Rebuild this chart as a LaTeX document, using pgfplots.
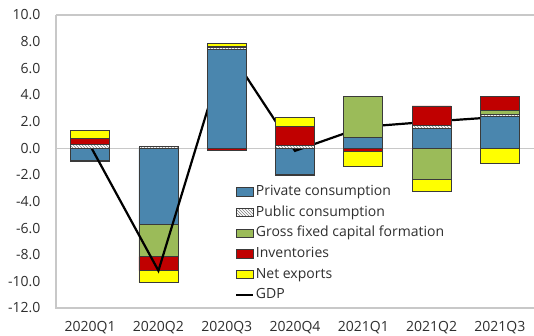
\documentclass[border=0pt]{standalone}
\usepackage{pgfplots}
\pgfplotsset{compat=1.18}
\usepackage{fontspec}
\setmainfont{Open Sans}
\usetikzlibrary{patterns}

\definecolor{pcons}{HTML}{4A86AE}
\definecolor{gfcf}{HTML}{9BBB59}
\definecolor{inv}{HTML}{C00000}
\definecolor{nx}{HTML}{FFFF00}
\definecolor{edge}{HTML}{3A3A3A}
\definecolor{axisgray}{HTML}{C8C8C8}
\definecolor{txt}{HTML}{2E2E2E}

% Contributions to GDP growth, percentage points (positive and negative parts)
\pgfplotstableread{
x  pc    pub   gfcf  inv   nx
0  0     0.30  0     0.40  0.60
1  0     0.15  0     0     0
2  7.40  0.15  0.10  0     0.20
3  0     0.23  0     1.37  0.70
4  0.78  0     3.12  0     0
5  1.46  0.25  0     1.46  0
6  2.36  0.15  0.35  1.03  0
}\positive
\pgfplotstableread{
x  pc     pub  gfcf   inv    nx
0  -0.90  0    -0.10  0      0
1  -5.70  0    -2.45  -1.05  -0.90
2  0      0    0      -0.20  0
3  -2.00  0    -0.05  0      0
4  0      0    0      -0.23  -1.13
5  0      0    -2.36  0      -0.91
6  0      0    0      0      -1.18
}\negative
\pgfplotstableread{
x  gdp
0  0.20
1  -9.20
2  7.60
3  -0.20
4  1.60
5  2.00
6  2.35
}\gdp

\pgfplotsset{
  base/.style={
    scale only axis, width=478pt, height=293pt,
    xmin=-0.5, xmax=6.5, ymin=-12, ymax=10,
    ybar stacked, bar width=39pt,
    clip=false,
  },
  seg/.style={draw=edge, line width=0.8pt},
  boxleg/.style={legend image code/.code={\draw[##1] (0pt,-4pt) rectangle (17pt,4.5pt);}},
  lineleg/.style={legend image code/.code={\draw[##1] (0pt,0pt) -- (17pt,0pt);}},
}

\begin{document}
\begin{tikzpicture}
% negative parts of the stacks
\begin{axis}[base, axis lines=none, xtick=\empty, ytick=\empty]
  \draw[axisgray, line width=1.2pt] (axis cs:-0.5,0) -- (axis cs:6.5,0);
  \addplot[seg, fill=pcons] table[x=x, y=pc] {\negative};
  \addplot[seg, fill=white, postaction={pattern=north west lines, pattern color=gray}] table[x=x, y=pub] {\negative};
  \addplot[seg, fill=gfcf] table[x=x, y=gfcf] {\negative};
  \addplot[seg, fill=inv] table[x=x, y=inv] {\negative};
  \addplot[seg, fill=nx] table[x=x, y=nx] {\negative};
\end{axis}
% positive parts, GDP and the frame
\begin{axis}[base,
  axis line style={draw=none},
  tick style={draw=none},
  xtick=data,
  xticklabels={2020Q1,2020Q2,2020Q3,2020Q4,2021Q1,2021Q2,2021Q3},
  xticklabel style={font=\fontsize{14}{16}\selectfont, text=txt, yshift=-9.5pt},
  ytick={-12,-10,...,10},
  yticklabels={-12.0,-10.0,-8.0,-6.0,-4.0,-2.0,0.0,2.0,4.0,6.0,8.0,10.0},
  yticklabel style={font=\fontsize{14}{16}\selectfont, text=txt, xshift=-12pt},
  major tick length=0pt,
  legend cell align=left,
  legend style={draw=none, fill=none, inner sep=0pt,
    at={(0.3745,0.423)}, anchor=north west,
    font=\fontsize{14}{16}\selectfont, text=txt,
    row sep=4.6pt,
    nodes={text height=9.5pt, text depth=2.5pt, inner ysep=2pt, inner xsep=1.5pt}},
  boxleg,
]
  \draw[axisgray, line width=1.2pt] (rel axis cs:0,1) -- (rel axis cs:1,1);
  \draw[axisgray, line width=1.2pt] (rel axis cs:0,1) -- (rel axis cs:0,0) -- (rel axis cs:1,0);
  \addplot[seg, fill=pcons] table[x=x, y=pc] {\positive};
  \addlegendentry{Private consumption}
  \addplot[seg, fill=white, postaction={pattern=north west lines, pattern color=gray}] table[x=x, y=pub] {\positive};
  \addlegendentry{Public consumption}
  \addplot[seg, fill=gfcf] table[x=x, y=gfcf] {\positive};
  \addlegendentry{Gross fixed capital formation}
  \addplot[seg, fill=inv] table[x=x, y=inv] {\positive};
  \addlegendentry{Inventories}
  \addplot[seg, fill=nx] table[x=x, y=nx] {\positive};
  \addlegendentry{Net exports}
  \addplot[sharp plot, black, line width=2.2pt, stack plots=false, mark=none, lineleg]
    table[x=x, y=gdp] {\gdp};
  \addlegendentry{GDP}
\end{axis}
\pgfresetboundingbox
\path[use as bounding box] (-56pt,-28pt) rectangle (478pt,308pt);
\end{tikzpicture}
\end{document}
